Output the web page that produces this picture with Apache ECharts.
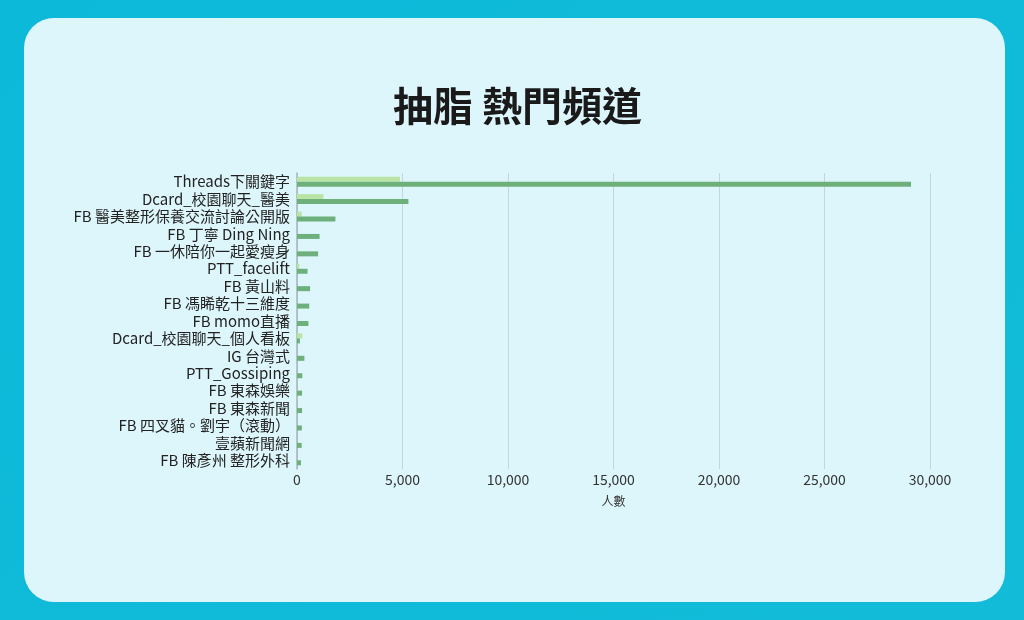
<!DOCTYPE html>
<html>
<head>
<meta charset="utf-8">
<script src="https://cdn.jsdelivr.net/npm/echarts@6/dist/echarts.min.js"></script>
<style>
    html, body { margin: 0; padding: 0; width: 1024px; height: 620px; overflow: hidden; }
    body { background: linear-gradient(135deg, #0cb9d8, #12bcd9); position: relative; }
    #card { position: absolute; left: 24px; top: 18px; width: 981px; height: 584px; border-radius: 30px; background: #ddf6fb; }
    #chart { position: absolute; left: 0; top: 0; width: 1024px; height: 620px; }
</style>
</head>
<body>
<div id="card"></div>
<div id="chart"></div>
<script>
var channels = [
    'Threads下關鍵字',
    'Dcard_校園聊天_醫美',
    'FB 醫美整形保養交流討論公開版',
    'FB 丁寧 Ding Ning',
    'FB 一休陪你一起愛瘦身',
    'PTT_facelift',
    'FB 黃山料',
    'FB 馮睎乾十三維度',
    'FB momo直播',
    'Dcard_校園聊天_個人看板',
    'IG 台灣式',
    'PTT_Gossiping',
    'FB 東森娛樂',
    'FB 東森新聞',
    'FB 四叉貓。劉宇（滾動）',
    '壹蘋新聞網',
    'FB 陳彥州 整形外科'
];
var seriesA = [4880, 1250, 220, 0, 0, 110, 0, 0, 0, 250, 0, 0, 0, 0, 0, 0, 0];
var seriesB = [29100, 5280, 1820, 1070, 1000, 500, 620, 580, 540, 140, 350, 250, 240, 240, 230, 220, 190];
var xTicks = { min: 0, max: 30000, interval: 5000 };

var chart = echarts.init(document.getElementById('chart'));
chart.setOption({
    backgroundColor: 'transparent',
    textStyle: { fontFamily: '"Noto Sans CJK TC", "Noto Sans", sans-serif' },
    title: {
        text: '抽脂 熱門頻道',
        left: 388,
        top: 81,
        textStyle: { fontSize: 40, fontWeight: 'bold', color: '#1a1a1a', fontFamily: '"Noto Sans CJK TC", sans-serif' }
    },
    tooltip: {},
    grid: { left: 297, right: 94, top: 173, bottom: 151 },
    xAxis: {
        type: 'value',
        min: xTicks.min,
        max: xTicks.max,
        interval: xTicks.interval,
        name: '人數',
        nameLocation: 'middle',
        nameGap: 26,
        nameTextStyle: { fontSize: 12, color: '#333' },
        axisLine: { show: false },
        axisTick: { show: false },
        axisLabel: {
            fontSize: 14,
            color: '#333',
            margin: 4,
            formatter: function (v) { return v.toLocaleString('en-US'); }
        },
        splitLine: { lineStyle: { color: '#c3d6dc', width: 1 } }
    },
    yAxis: {
        type: 'category',
        inverse: true,
        data: channels,
        axisLine: { show: true, lineStyle: { color: '#a6b4b8', width: 1.5 } },
        axisTick: { show: false },
        axisLabel: { fontSize: 15, color: '#222', margin: 7, interval: 0 }
    },
    series: [{
        name: '系列一',
        type: 'bar',
        data: seriesA,
        barWidth: 5,
        barGap: '0%',
        itemStyle: { color: '#b9e4a4' }
    }, {
        name: '系列二',
        type: 'bar',
        data: seriesB,
        barWidth: 5,
        itemStyle: { color: '#6db07b' }
    }]
});
</script>
</body>
</html>
